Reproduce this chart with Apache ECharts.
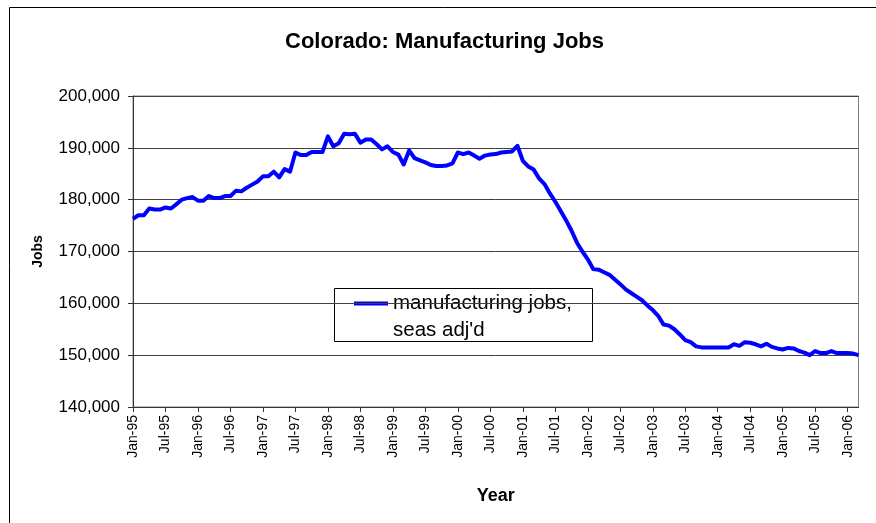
<!DOCTYPE html>
<html>
<head>
<meta charset="utf-8">
<script src="https://cdn.jsdelivr.net/npm/echarts@6/dist/echarts.min.js"></script>
<style>
  html, body { margin: 0; padding: 0; background: #fff; }
  #chart { width: 876px; height: 523px; }
</style>
</head>
<body>
<div id="chart"></div>
<script>
// Monthly series, Jan-95 through Mar-06 (thousands of jobs, seasonally adjusted)
const startYear = 1995;
const monthCount = 135;
const monthNames = ['Jan', 'Feb', 'Mar', 'Apr', 'May', 'Jun', 'Jul', 'Aug', 'Sep', 'Oct', 'Nov', 'Dec'];

const jobsThousands = [
  176.3, 177.0, 177.0, 178.3, 178.1, 178.1, 178.5, 178.3, 179.1, 180.0, 180.3, 180.5,
  179.8, 179.8, 180.7, 180.3, 180.3, 180.7, 180.7, 181.7, 181.6, 182.3, 182.9, 183.5,
  184.5, 184.5, 185.4, 184.3, 185.9, 185.4, 189.1, 188.6, 188.6, 189.2, 189.2, 189.2,
  192.2, 190.3, 190.9, 192.7, 192.6, 192.7, 191.0, 191.6, 191.6, 190.7, 189.7, 190.3,
  189.2, 188.7, 186.8, 189.5, 188.0, 187.6, 187.2, 186.7, 186.5, 186.5, 186.6, 187.0,
  189.1, 188.8, 189.1, 188.5, 187.9, 188.5, 188.7, 188.8, 189.1, 189.2, 189.3, 190.4,
  187.5, 186.4, 185.8, 184.1, 183.0, 181.2, 179.6, 177.8, 176.0, 174.0, 171.7, 170.0,
  168.5, 166.6, 166.5, 166.0, 165.5, 164.6, 163.7, 162.7, 162.0, 161.3, 160.6, 159.6,
  158.7, 157.6, 155.9, 155.7, 155.0, 154.0, 152.9, 152.5, 151.7, 151.5, 151.5, 151.5,
  151.5, 151.5, 151.5, 152.1, 151.8, 152.5, 152.4, 152.1, 151.7, 152.2, 151.6, 151.3,
  151.1, 151.4, 151.3, 150.8, 150.5, 150.0, 150.8, 150.4, 150.4, 150.8, 150.4, 150.4,
  150.4, 150.3, 150.0
];

const yTicks = [140000, 150000, 160000, 170000, 180000, 190000, 200000];
const seriesName = 'manufacturing jobs,';
const seriesNameLine2 = 'seas adj\'d';

// Category labels such as "Jan-95"
const categories = [];
for (let i = 0; i < monthCount; i++) {
  const y = startYear + Math.floor(i / 12);
  categories.push(monthNames[i % 12] + '-' + String(y % 100).padStart(2, '0'));
}
const jobs = jobsThousands.map(v => Math.round(v * 1000));

const fmt = v => v.toLocaleString('en-US');
const font = 'Liberation Sans, Arial, Helvetica, sans-serif';

const chart = echarts.init(document.getElementById('chart'), null, { renderer: 'canvas' });

const gridLeft = 133, gridRight = 17.5, gridTop = 96, gridBottom = 116;

chart.setOption({
  backgroundColor: '#ffffff',
  animation: false,
  title: {
    text: 'Colorado: Manufacturing Jobs',
    left: 280,
    top: 26,
    textStyle: { fontFamily: font, fontSize: 22, fontWeight: 'bold', color: '#000' }
  },
  grid: { left: gridLeft, right: gridRight, top: gridTop, bottom: gridBottom, show: true,
          borderColor: '#808080', borderWidth: 1, backgroundColor: '#fff' },
  xAxis: {
    type: 'category',
    data: categories,
    boundaryGap: false,
    name: 'Year',
    nameLocation: 'middle',
    nameGap: 80,
    nameTextStyle: { fontFamily: font, fontSize: 18, fontWeight: 'bold', color: '#000' },
    axisLine: { show: true, lineStyle: { color: '#333', width: 1 } },
    axisTick: { show: true, interval: 5, length: 5, inside: false, lineStyle: { color: '#333' } },
    axisLabel: { interval: 5, rotate: 90, margin: 8, fontFamily: font, fontSize: 14, color: '#000' },
    splitLine: { show: false }
  },
  yAxis: {
    type: 'value',
    min: yTicks[0],
    max: yTicks[yTicks.length - 1],
    interval: 10000,
    name: 'Jobs',
    nameLocation: 'middle',
    nameGap: 88,
    nameTextStyle: { fontFamily: font, fontSize: 14, fontWeight: 'bold', color: '#000' },
    axisLine: { show: true, lineStyle: { color: '#333', width: 1 } },
    axisTick: { show: true, length: 5, lineStyle: { color: '#333' } },
    axisLabel: { margin: 13, fontFamily: font, fontSize: 17, color: '#000', formatter: fmt },
    splitLine: { show: true, lineStyle: { color: '#404040', width: 1 } }
  },
  series: [{
    name: seriesName,
    type: 'line',
    data: jobs,
    showSymbol: false,
    symbol: 'none',
    lineStyle: { color: '#0000ff', width: 4, join: 'round' },
    z: 3
  }],
  graphic: [
    // outer frame of the chart area
    { type: 'rect', shape: { x: 9.5, y: 7.5, width: 900, height: 600 },
      style: { fill: null, stroke: '#000', lineWidth: 1 }, silent: true, z: 0 },
    // legend box
    { type: 'group', left: 334, top: 288, z: 100, children: [
      { type: 'rect', shape: { x: 0.5, y: 0.5, width: 258, height: 53 },
        style: { fill: '#fff', stroke: '#000', lineWidth: 1 } },
      { type: 'line', shape: { x1: 20, y1: 15.5, x2: 54, y2: 15.5 },
        style: { stroke: '#0000ff', lineWidth: 4 } },
      { type: 'text', x: 59, y: 5,
        style: { text: seriesName, fontFamily: font, fontSize: 20.5, fill: '#000' } },
      { type: 'text', x: 59, y: 32,
        style: { text: seriesNameLine2, fontFamily: font, fontSize: 20.5, fill: '#000' } }
    ]}
  ]
});
</script>
</body>
</html>
